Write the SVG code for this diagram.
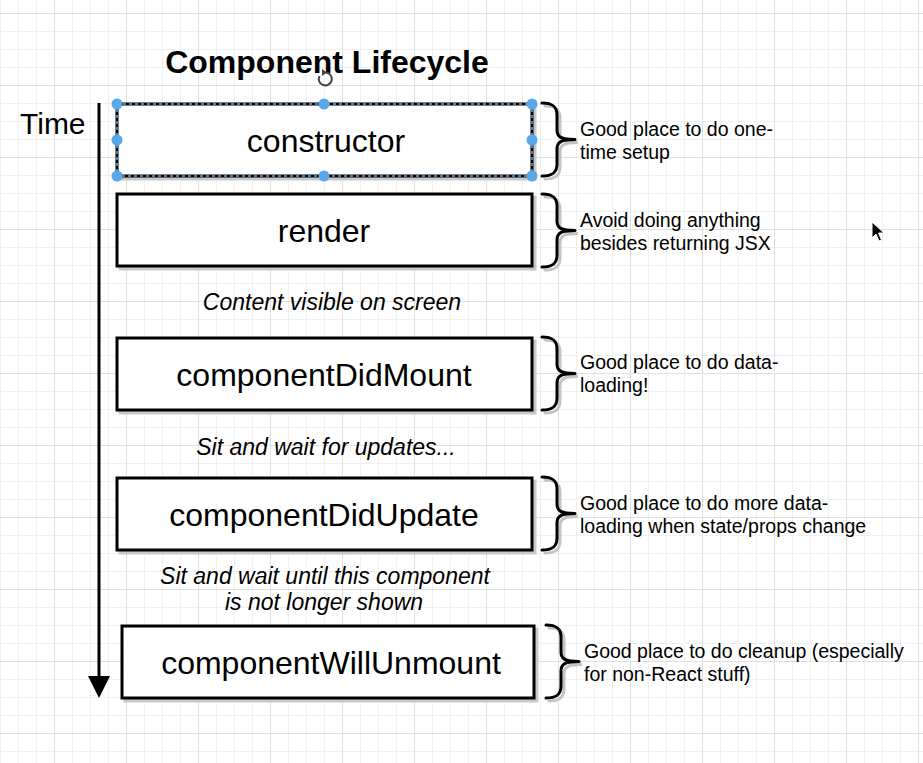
<svg xmlns="http://www.w3.org/2000/svg" width="923" height="763" viewBox="0 0 923 763">
<defs>
<style>
.t{font-family:"Liberation Sans",Arial,Helvetica,sans-serif;fill:#000}
.title{font-size:32px;font-weight:bold;text-anchor:middle}
.time{font-size:30px}
.box{fill:#fff;stroke:#000;stroke-width:3}
.sh{fill:#c8c8c8;stroke:#c8c8c8;stroke-width:3}
.lbl{font-size:32px;text-anchor:middle}
.it{font-size:23px;font-style:italic;text-anchor:middle}
.note{font-size:19.5px}
.br{fill:none;stroke:#000;stroke-width:3;stroke-linecap:round;stroke-linejoin:round}
.brs{fill:none;stroke:#c4c4c4;stroke-width:3;stroke-linecap:round}
.h{fill:#5aa8ea}
.gm{stroke:#f0f0f0;stroke-width:1}
.gM{stroke:#e0e0e0;stroke-width:1}
</style>
<pattern id="grid" patternUnits="userSpaceOnUse" x="54" y="13" width="72" height="72">
<path class="gm" d="M18.5,0V72M36.5,0V72M54.5,0V72M0,18.5H72M0,36.5H72M0,54.5H72"/>
<path class="gM" d="M0.5,0V72M0,0.5H72"/>
</pattern>
<marker id="ah" markerUnits="userSpaceOnUse" viewBox="0 -11 22 22" refX="0" refY="0" markerWidth="22" markerHeight="22" orient="auto">
<path d="M0,-11 L22,0 L0,11 z" fill="#000"/>
</marker>
<path id="brace" d="M0,0 C10,0 15,3 15,12 L15,27 C15,34 19,36.5 33,36.5 C19,36.5 15,39 15,46 L15,61 C15,70 10,73 0,73"/>
</defs>
<rect width="923" height="763" fill="#fff"/>
<rect width="923" height="763" fill="url(#grid)"/>

<g id="connectors">
<line x1="99" y1="103" x2="99" y2="676" stroke="#000" stroke-width="3" marker-end="url(#ah)"/>
</g>

<g id="title"><text class="t title" x="327" y="73">Component Lifecycle</text></g>
<g id="time-label"><text class="t time" x="20" y="134">Time</text></g>

<g id="constructor">
<rect class="sh" x="120" y="107" width="415" height="72"/>
<rect class="box" x="117" y="104" width="415" height="72"/>
<rect x="117" y="104" width="415" height="72" fill="none" stroke="#6aa6dc" stroke-width="1.5" stroke-dasharray="3,3"/>
<text class="t lbl" x="326" y="152">constructor</text>
</g>

<g id="render">
<rect class="sh" x="120" y="197" width="415" height="72"/>
<rect class="box" x="117" y="194" width="415" height="72"/>
<text class="t lbl" x="324" y="242">render</text>
</g>

<g id="componentDidMount">
<rect class="sh" x="120" y="341" width="415" height="72"/>
<rect class="box" x="117" y="338" width="415" height="72"/>
<text class="t lbl" x="324" y="386">componentDidMount</text>
</g>

<g id="componentDidUpdate">
<rect class="sh" x="120" y="481" width="415" height="72"/>
<rect class="box" x="117" y="478" width="415" height="72"/>
<text class="t lbl" x="324" y="526">componentDidUpdate</text>
</g>

<g id="componentWillUnmount">
<rect class="sh" x="125" y="629" width="412" height="72"/>
<rect class="box" x="122" y="626" width="412" height="72"/>
<text class="t lbl" x="331" y="674">componentWillUnmount</text>
</g>

<g id="label-content-visible"><text class="t it" x="332" y="310">Content visible on screen</text></g>
<g id="label-sit-wait-updates"><text class="t it" x="326" y="455">Sit and wait for updates...</text></g>
<g id="label-sit-wait-unmount"><text class="t it" x="325" y="584">Sit and wait until this component</text><text class="t it" x="324" y="610">is not longer shown</text></g>

<g id="note-constructor">
<use href="#brace" class="brs" transform="translate(545,106)"/>
<use href="#brace" class="br" transform="translate(542,103)"/>
<text class="t note" x="580" y="136">Good place to do one-</text>
<text class="t note" x="580" y="159">time setup</text>
</g>

<g id="note-render">
<use href="#brace" class="brs" transform="translate(545,197)"/>
<use href="#brace" class="br" transform="translate(542,194)"/>
<text class="t note" x="580" y="227">Avoid doing anything</text>
<text class="t note" x="580" y="250">besides returning JSX</text>
</g>

<g id="note-didmount">
<use href="#brace" class="brs" transform="translate(545,340)"/>
<use href="#brace" class="br" transform="translate(542,337)"/>
<text class="t note" x="580" y="369">Good place to do data-</text>
<text class="t note" x="580" y="392">loading!</text>
</g>

<g id="note-didupdate">
<use href="#brace" class="brs" transform="translate(545,480)"/>
<use href="#brace" class="br" transform="translate(542,477)"/>
<text class="t note" x="580" y="510">Good place to do more data-</text>
<text class="t note" x="580" y="533">loading when state/props change</text>
</g>

<g id="note-willunmount">
<use href="#brace" class="brs" transform="translate(549,628)"/>
<use href="#brace" class="br" transform="translate(546,625)"/>
<text class="t note" x="584" y="658">Good place to do cleanup (especially</text>
<text class="t note" x="584" y="681">for non-React stuff)</text>
</g>

<g id="selection-handles">
<circle class="h" cx="117" cy="104" r="5.5"/>
<circle class="h" cx="324" cy="104" r="5.5"/>
<circle class="h" cx="532" cy="104" r="5.5"/>
<circle class="h" cx="117" cy="140" r="5.5"/>
<circle class="h" cx="532" cy="140" r="5.5"/>
<circle class="h" cx="117" cy="176" r="5.5"/>
<circle class="h" cx="324" cy="176" r="5.5"/>
<circle class="h" cx="532" cy="176" r="5.5"/>
<path d="M319.5,76 A6.5,6.5 0 1 0 326,72.5" fill="none" stroke="#444" stroke-width="2"/>
<path d="M322,69 L327,72.5 L322,76 z" fill="#444"/>
</g>

<g id="cursor">
<path d="M872,222 L872,238 L876,234 L879,241 L881.5,240 L878.5,233 L884,233 z" fill="#000" stroke="#fff" stroke-width="1"/>
</g>
</svg>
